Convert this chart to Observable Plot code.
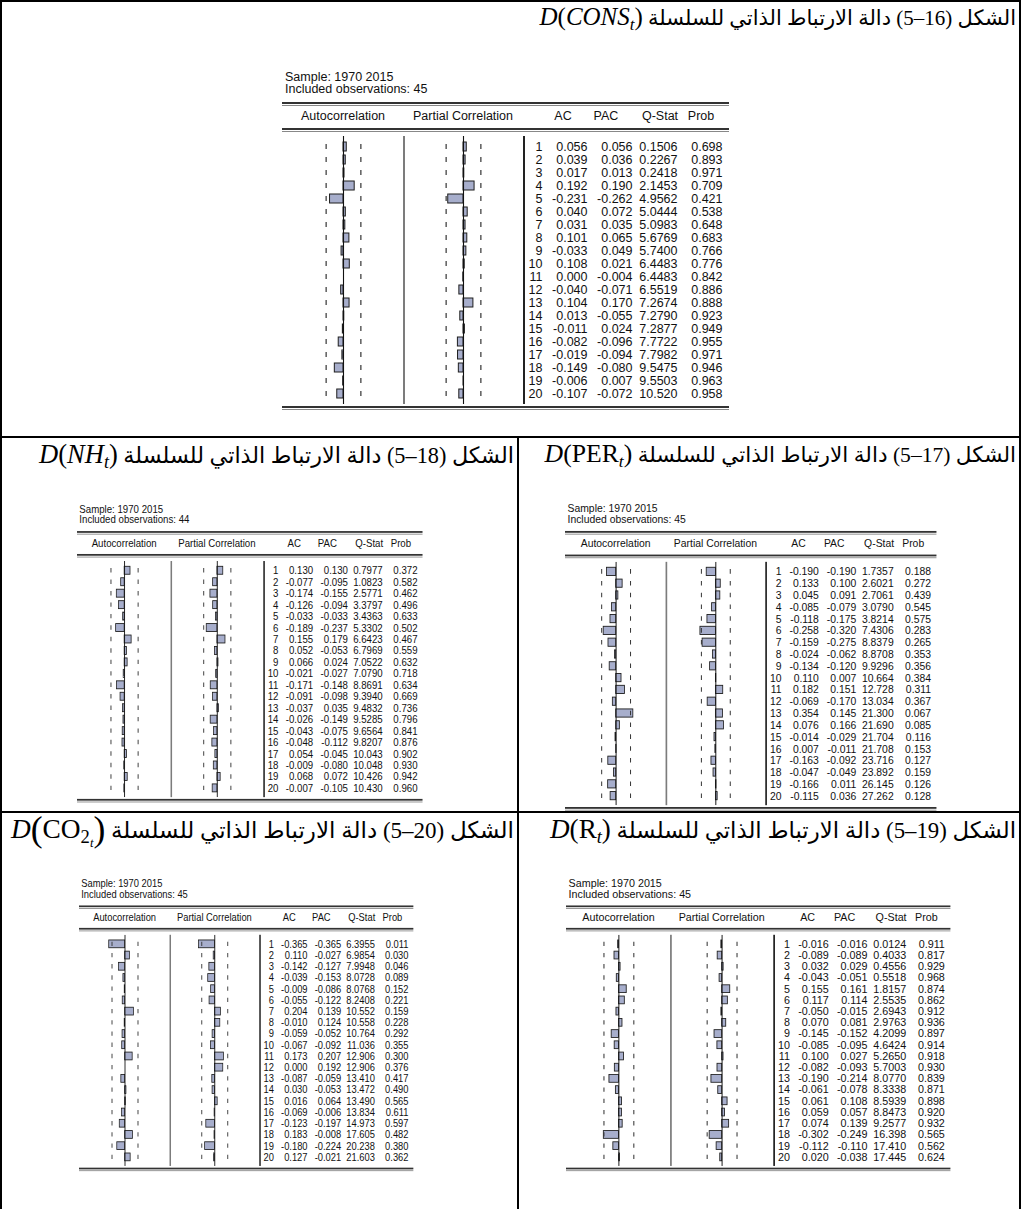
<!DOCTYPE html>
<html><head><meta charset="utf-8">
<script src="https://cdn.jsdelivr.net/npm/d3@7"></script>
<script src="https://cdn.jsdelivr.net/npm/@observablehq/plot@0.6"></script>
<style>
html,body{margin:0;padding:0;background:#fff;overflow:hidden;}
#page{position:relative;width:1021px;height:1209px;overflow:hidden;}
.ln{position:absolute;background:#000;}
.title{position:absolute;direction:rtl;white-space:nowrap;line-height:24px;height:24px;color:#000;font-family:"Liberation Serif","DejaVu Sans",serif;}
.title .num{unicode-bidi:isolate;direction:ltr;}
.title .m{unicode-bidi:isolate;direction:ltr;font-family:"Liberation Serif",serif;font-size:1.19em;}
.title sub{font-size:0.68em;vertical-align:-0.28em;line-height:0;}
.title .bp{font-size:1.3em;vertical-align:-0.08em;}
.cg{position:absolute;transform-origin:0 0;width:447px;height:345px;font-family:"Liberation Sans",Arial,sans-serif;color:#111;}
.cg .t{position:absolute;font-size:12.5px;line-height:12px;white-space:nowrap;}
.cg .c{transform:translateX(-50%);}
.cg .dbl{position:absolute;left:0;width:447px;height:1px;border-top:2px solid #333;border-bottom:1px solid #888;}
.cg .box{position:absolute;}
.cg svg{display:block;}
</style></head>
<body><div id="page"></div>
<script>
// ---------- data ----------
const lags = [1,2,3,4,5,6,7,8,9,10,11,12,13,14,15,16,17,18,19,20];
const columnHeads = ["Autocorrelation","Partial Correlation","AC","PAC","Q-Stat","Prob"];
const sampleText = "Sample: 1970 2015";
const observations = [45,44,45,45,45];           // cons, nh, per, co2, r
const figureNumbers = ["5–16","5–18","5–17","5–20","5–19"];
const seriesNames = ["CONS","NH","PER","CO","R"];

const consAC   = [0.056,0.039,0.017,0.192,-0.231,0.040,0.031,0.101,-0.033,0.108,0.000,-0.040,0.104,0.013,-0.011,-0.082,-0.019,-0.149,-0.006,-0.107];
const consPAC  = [0.056,0.036,0.013,0.190,-0.262,0.072,0.035,0.065,0.049,0.021,-0.004,-0.071,0.170,-0.055,0.024,-0.096,-0.094,-0.080,0.007,-0.072];
const consQ    = [0.1506,0.2267,0.2418,2.1453,4.9562,5.0444,5.0983,5.6769,5.7400,6.4483,6.4483,6.5519,7.2674,7.2790,7.2877,7.7722,7.7982,9.5475,9.5503,10.520];
const consProb = [0.698,0.893,0.971,0.709,0.421,0.538,0.648,0.683,0.766,0.776,0.842,0.886,0.888,0.923,0.949,0.955,0.971,0.946,0.963,0.958];

const nhAC   = [0.130,-0.077,-0.174,-0.126,-0.033,-0.189,0.155,0.052,0.066,-0.021,-0.171,-0.091,-0.037,-0.026,-0.043,-0.048,0.054,-0.009,0.068,-0.007];
const nhPAC  = [0.130,-0.095,-0.155,-0.094,-0.033,-0.237,0.179,-0.053,0.024,-0.027,-0.148,-0.098,0.035,-0.149,-0.075,-0.112,-0.045,-0.080,0.072,-0.105];
const nhQ    = [0.7977,1.0823,2.5771,3.3797,3.4363,5.3302,6.6423,6.7969,7.0522,7.0790,8.8691,9.3940,9.4832,9.5285,9.6564,9.8207,10.043,10.048,10.426,10.430];
const nhProb = [0.372,0.582,0.462,0.496,0.633,0.502,0.467,0.559,0.632,0.718,0.634,0.669,0.736,0.796,0.841,0.876,0.902,0.930,0.942,0.960];

const perAC   = [-0.190,0.133,0.045,-0.085,-0.118,-0.258,-0.159,-0.024,-0.134,0.110,0.182,-0.069,0.354,0.076,-0.014,0.007,-0.163,-0.047,-0.166,-0.115];
const perPAC  = [-0.190,0.100,0.091,-0.079,-0.175,-0.320,-0.275,-0.062,-0.120,0.007,0.151,-0.170,0.145,0.166,-0.029,-0.011,-0.092,-0.049,0.011,0.036];
const perQ    = [1.7357,2.6021,2.7061,3.0790,3.8214,7.4306,8.8379,8.8708,9.9296,10.664,12.728,13.034,21.300,21.690,21.704,21.708,23.716,23.892,26.145,27.262];
const perProb = [0.188,0.272,0.439,0.545,0.575,0.283,0.265,0.353,0.356,0.384,0.311,0.367,0.067,0.085,0.116,0.153,0.127,0.159,0.126,0.128];

const co2AC   = [-0.365,0.110,-0.142,-0.039,-0.009,-0.055,0.204,-0.010,-0.059,-0.067,0.173,0.000,-0.087,0.030,0.016,-0.069,-0.123,0.183,-0.180,0.127];
const co2PAC  = [-0.365,-0.027,-0.127,-0.153,-0.086,-0.122,0.139,0.124,-0.052,-0.092,0.207,0.192,-0.059,-0.053,0.064,-0.006,-0.197,-0.008,-0.224,-0.021];
const co2Q    = [6.3955,6.9854,7.9948,8.0728,8.0768,8.2408,10.552,10.558,10.764,11.036,12.906,12.906,13.410,13.472,13.490,13.834,14.973,17.605,20.238,21.603];
const co2Prob = [0.011,0.030,0.046,0.089,0.152,0.221,0.159,0.228,0.292,0.355,0.300,0.376,0.417,0.490,0.565,0.611,0.597,0.482,0.380,0.362];

const rAC   = [-0.016,-0.089,0.032,-0.043,0.155,0.117,-0.050,0.070,-0.145,-0.085,0.100,-0.082,-0.190,-0.061,0.061,0.059,0.074,-0.302,-0.112,0.020];
const rPAC  = [-0.016,-0.089,0.029,-0.051,0.161,0.114,-0.015,0.081,-0.152,-0.095,0.027,-0.093,-0.214,-0.078,0.108,0.057,0.139,-0.249,-0.110,-0.038];
const rQ    = [0.0124,0.4033,0.4556,0.5518,1.8157,2.5535,2.6943,2.9763,4.2099,4.6424,5.2650,5.7003,8.0770,8.3338,8.5939,8.8473,9.2577,16.398,17.410,17.445];
const rProb = [0.911,0.817,0.929,0.968,0.874,0.862,0.912,0.936,0.897,0.914,0.918,0.930,0.839,0.871,0.898,0.920,0.932,0.565,0.562,0.624];

// ---------- layout ----------
const panels = [
  {i:0, ac:consAC, pac:consPAC, q:consQ, prob:consProb, italic:true,  x0:282,  yS:77,  sx:1,     sy:1,     titleRight:5,   titleTop:5,   tfs:21},
  {i:1, ac:nhAC,   pac:nhPAC,   q:nhQ,   prob:nhProb,   italic:true,  x0:77,   yS:510, sx:0.773, sy:0.881, titleRight:507, titleTop:442, tfs:22.3},
  {i:2, ac:perAC,  pac:perPAC,  q:perQ,  prob:perProb,  italic:false, x0:565,  yS:509, sx:0.831, sy:0.908, titleRight:5,   titleTop:442, tfs:21.6},
  {i:3, ac:co2AC,  pac:co2PAC,  q:co2Q,  prob:co2Prob,  italic:false, x0:78.5, yS:885, sx:0.748, sy:0.8625,titleRight:507, titleTop:817, tfs:23, co2:true},
  {i:4, ac:rAC,    pac:rPAC,    q:rQ,    prob:rProb,    italic:false, x0:566,  yS:885, sx:0.86,  sy:0.8625,titleRight:5,   titleTop:817, tfs:22.8}
];

const page = document.getElementById("page");
function line(l,t,w,h){const d=document.createElement("div");d.className="ln";Object.assign(d.style,{left:l+"px",top:t+"px",width:w+"px",height:h+"px"});page.appendChild(d);}
line(0,0,1021,2); line(0,0,2,1209); line(1019,0,2,1209);
line(0,436,1021,2); line(0,811,1021,2); line(517,436,2,800);

function mathHTML(p){
  const name = seriesNames[p.i];
  if (p.co2) return `<i>D</i><span class="bp">(</span>${name}<sub>2<sub><i>t</i></sub></sub><span class="bp">)</span>`;
  const nm = p.italic ? `<i>${name}</i>` : name;
  return `<i>D</i>(${nm}<sub><i>t</i></sub>)`;
}

const fmt3 = v => v.toFixed(3);
const fmtQ = v => v < 10 ? v.toFixed(4) : v.toFixed(3);
const fontCSS = {background:"transparent", fontFamily:"'Liberation Sans', Arial, sans-serif", fontSize:"12.5px"};

function text(parent, str, left, top, center){
  const d=document.createElement("div"); d.className="t"+(center?" c":""); d.textContent=str;
  d.style.left=left+"px"; d.style.top=top+"px"; parent.appendChild(d); return d;
}
function box(parent, el, left, top){
  const d=document.createElement("div"); d.className="box"; d.style.left=left+"px"; d.style.top=top+"px";
  d.appendChild(el); parent.appendChild(d); return d;
}

function correlogram(p){
  const n = observations[p.i];
  const bound = 2/Math.sqrt(n);
  const rows = lags.map((k,j)=>({lag:k, ac:p.ac[j], pac:p.pac[j], q:p.q[j], prob:p.prob[j]}));
  const cg = document.createElement("div"); cg.className="cg";
  cg.style.left = p.x0+"px"; cg.style.top = (p.yS-8)+"px";
  cg.style.transform = `scale(${p.sx},${p.sy})`;
  page.appendChild(cg);

  text(cg, sampleText, 3, 2);
  text(cg, "Included observations: " + n, 3, 14);
  const r1=document.createElement("div"); r1.className="dbl"; r1.style.top="33px"; cg.appendChild(r1);
  const headX = [61,181,281,324,378,419];
  columnHeads.forEach((h,k)=>text(cg, h, headX[k], 41, true));
  const r2=document.createElement("div"); r2.className="dbl"; r2.style.top="59px"; cg.appendChild(r2);
  const r3=document.createElement("div"); r3.className="dbl"; r3.style.top="337px"; cg.appendChild(r3);

  const bodyTop = 67, bodyH = 268;
  const yScale = {type:"band", domain:lags, paddingInner:0.34, paddingOuter:0.17, axis:null};
  const bars = key => Plot.plot({
    width:120, height:bodyH, margin:0, style:fontCSS,
    x:{domain:[-1.03,1.03], axis:null}, y:yScale,
    marks:[
      Plot.barX(rows,{x:key, y:"lag", fill:"#a7aecc", stroke:"#1e1e1e", strokeWidth:1}),
      Plot.ruleX([0],{stroke:"#111", strokeWidth:1.1}),
      Plot.tickX(rows,{x:()=>-bound, y:"lag", stroke:"#333", strokeWidth:1.2, insetTop:2, insetBottom:2}),
      Plot.tickX(rows,{x:()=>bound, y:"lag", stroke:"#333", strokeWidth:1.2, insetTop:2, insetBottom:2})
    ]});
  box(cg, bars("ac"), 1, bodyTop);
  box(cg, bars("pac"), 121, bodyTop);
  const s1=document.createElement("div"); Object.assign(s1.style,{position:"absolute",left:"121px",top:bodyTop+"px",width:"2px",height:bodyH+"px",background:"#7c7c7c"}); cg.appendChild(s1);
  const s2=document.createElement("div"); Object.assign(s2.style,{position:"absolute",left:"241px",top:bodyTop+"px",width:"1.5px",height:bodyH+"px",background:"#222"}); cg.appendChild(s2);

  const cols = ["lag","ac","pac","q","prob"];
  const tx = (col, f) => Plot.text(rows,{x:()=>col, y:"lag", text:d=>f(d[col]), textAnchor:"end", fill:"#111", fontSize:12.5});
  const nums = Plot.plot({
    width:204, height:bodyH, margin:0, style:fontCSS,
    x:{type:"point", domain:cols, range:[17,197], padding:0, axis:null}, y:yScale,
    marks:[tx("lag",v=>String(v)), tx("ac",fmt3), tx("pac",fmt3), tx("q",fmtQ), tx("prob",fmt3)]
  });
  box(cg, nums, 243, bodyTop);

  const t = document.createElement("div"); t.className="title";
  t.style.right = p.titleRight+"px"; t.style.top = p.titleTop+"px"; t.style.fontSize = p.tfs+"px";
  t.innerHTML = `<span class="ar">الشكل (<span class="num">${figureNumbers[p.i]}</span>) دالة الارتباط الذاتي للسلسلة</span> <span class="m">${mathHTML(p)}</span>`;
  page.appendChild(t);
}
panels.forEach(correlogram);
</script></body></html>
